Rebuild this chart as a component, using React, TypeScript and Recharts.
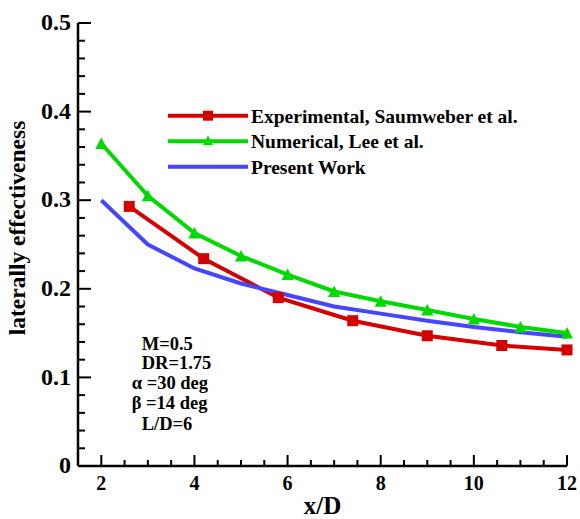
import React from 'react';
import { LineChart, Line, XAxis, YAxis } from 'recharts';

// ---- data ----
const expX = [2.6, 4.2, 5.8, 7.4, 9.0, 10.6, 12];
const expY = [0.293, 0.234, 0.19, 0.164, 0.147, 0.136, 0.131];

const numX = [2, 3, 4, 5, 6, 7, 8, 9, 10, 11, 12];
const numY = [0.364, 0.305, 0.263, 0.237, 0.216, 0.197, 0.186, 0.176, 0.166, 0.157, 0.15];

const presX = [2, 3, 4, 5, 6, 7, 8, 9, 10, 11, 12];
const presY = [0.3, 0.25, 0.223, 0.206, 0.193, 0.18, 0.172, 0.164, 0.157, 0.151, 0.146];

const xTicks = [2, 2.5, 3, 3.5, 4, 4.5, 5, 5.5, 6, 6.5, 7, 7.5, 8, 8.5, 9, 9.5, 10, 10.5, 11, 11.5, 12];
const xMajor = [2, 4, 6, 8, 10, 12];
const yTicks = [0, 0.02, 0.04, 0.06, 0.08, 0.1, 0.12, 0.14, 0.16, 0.18, 0.2, 0.22, 0.24, 0.26, 0.28, 0.3, 0.32, 0.34, 0.36, 0.38, 0.4, 0.42, 0.44, 0.46, 0.48, 0.5];
const yMajor = [0, 0.1, 0.2, 0.3, 0.4, 0.5];

const seriesNames = ['Experimental, Saumweber et al.', 'Numerical, Lee et al.', 'Present Work'];
const notes = ['M=0.5', 'DR=1.75', '\u03B1 =30 deg', '\u03B2 =14 deg', 'L/D=6'];
const xTitle = 'x/D';
const yTitle = 'laterally effectiveness';

// ---- styles ----
const RED = '#D40000';
const GREEN = '#00D800';
const BLUE = '#4646FF';
const FONT = '"Liberation Serif", "Times New Roman", serif';

const toPts = (xs: number[], ys: number[]) => xs.map((x, i) => ({ x, y: ys[i] }));
const expData = toPts(expX, expY);
const numData = toPts(numX, numY);
const presData = toPts(presX, presY);

const X_MARGIN = 10;
const Y_MARGIN = 7;

const isIn = (arr: number[], v: number) => arr.some((a) => Math.abs(a - v) < 1e-9);

const XTick = (props: any) => {
  const { x, y, payload } = props;
  const axisY = y - X_MARGIN;
  const major = isIn(xMajor, payload.value);
  return (
    <g>
      <line x1={x} x2={x} y1={axisY} y2={axisY - (major ? 11 : 6)} stroke="#000" strokeWidth={2} />
      {major && (
        <text x={x} y={y} dy="0.72em" textAnchor="middle" fontFamily={FONT} fontWeight="bold" fontSize={20} fill="#000">
          {payload.value}
        </text>
      )}
    </g>
  );
};

const YTick = (props: any) => {
  const { x, y, payload } = props;
  const axisX = x + Y_MARGIN;
  const major = isIn(yMajor, payload.value);
  return (
    <g>
      <line x1={axisX} x2={axisX + (major ? 13 : 7)} y1={y} y2={y} stroke="#000" strokeWidth={2} />
      {major && (
        <text x={x} y={y} dy="0.3em" textAnchor="end" fontFamily={FONT} fontWeight="bold" fontSize={24} fill="#000">
          {payload.value}
        </text>
      )}
    </g>
  );
};

const SquareDot = (props: any) => {
  const { cx, cy, index } = props;
  if (cx == null || cy == null) return <g key={index} />;
  return <rect key={index} x={cx - 5.5} y={cy - 5.5} width={11} height={11} fill={RED} />;
};

const TriDot = (props: any) => {
  const { cx, cy, index } = props;
  if (cx == null || cy == null) return <g key={index} />;
  return (
    <polygon
      key={index}
      points={`${cx},${cy - 6} ${cx - 6},${cy + 5.5} ${cx + 6},${cy + 5.5}`}
      fill={GREEN}
    />
  );
};

const legendRows = [
  { name: seriesNames[0], color: RED, marker: 'square' },
  { name: seriesNames[1], color: GREEN, marker: 'triangle' },
  { name: seriesNames[2], color: BLUE, marker: 'none' },
];

const noteY = [349.5, 369, 389, 409, 429.5];
const noteX = [141.7, 141.7, 131.7, 131.7, 141.7];

export default function App() {
  return (
    <div style={{ position: 'absolute', left: 0, top: 0, width: 580, height: 519, background: '#fff' }}>
      <LineChart
        width={580}
        height={519}
        margin={{ top: 23, right: 13, bottom: 8, left: 0 }}
      >
        <XAxis
          dataKey="x"
          type="number"
          domain={[1.5, 12]}
          ticks={xTicks}
          interval={0}
          tickLine={false}
          tickSize={0}
          tickMargin={X_MARGIN}
          height={45}
          axisLine={{ stroke: '#000', strokeWidth: 2.5 }}
          tick={<XTick />}
          allowDuplicatedCategory={false}
        />
        <YAxis
          type="number"
          domain={[0, 0.5]}
          ticks={yTicks}
          interval={0}
          tickLine={false}
          tickSize={0}
          tickMargin={Y_MARGIN}
          width={78}
          axisLine={{ stroke: '#000', strokeWidth: 2.5 }}
          tick={<YTick />}
        />
        <Line
          data={expData}
          dataKey="y"
          type="linear"
          stroke={RED}
          strokeWidth={4}
          dot={(p: any) => <SquareDot {...p} />}
          activeDot={false}
          isAnimationActive={false}
        />
        <Line
          data={presData}
          dataKey="y"
          type="linear"
          stroke={BLUE}
          strokeWidth={4}
          dot={false}
          activeDot={false}
          isAnimationActive={false}
        />
        <Line
          data={numData}
          dataKey="y"
          type="linear"
          stroke={GREEN}
          strokeWidth={4}
          dot={(p: any) => <TriDot {...p} />}
          activeDot={false}
          isAnimationActive={false}
        />
      </LineChart>
      <svg
        width={580}
        height={519}
        style={{ position: 'absolute', left: 0, top: 0, pointerEvents: 'none' }}
      >
        {legendRows.map((r, i) => {
          const ly = 115.7 + i * 25.5;
          return (
            <g key={r.name}>
              <line x1={168} x2={248} y1={ly} y2={ly} stroke={r.color} strokeWidth={4} />
              {r.marker === 'square' && <rect x={203} y={ly - 5} width={10} height={10} fill={r.color} />}
              {r.marker === 'triangle' && (
                <polygon points={`208,${ly - 6} 203,${ly + 4} 213,${ly + 4}`} fill={r.color} />
              )}
              <text x={251} y={ly + 7} fontFamily={FONT} fontWeight="bold" fontSize={19.5} fill="#000">
                {r.name}
              </text>
            </g>
          );
        })}
        {notes.map((t, i) => (
          <text key={t} x={noteX[i]} y={noteY[i]} fontFamily={FONT} fontWeight="bold" fontSize={18.5} fill="#000">
            {t}
          </text>
        ))}
        <text x={322.5} y={514} textAnchor="middle" fontFamily={FONT} fontWeight="bold" fontSize={25} fill="#000">
          {xTitle}
        </text>
        <text
          x={25}
          y={228}
          transform="rotate(-90, 25, 228)"
          textAnchor="middle"
          fontFamily={FONT}
          fontWeight="bold"
          fontSize={23.5}
          fill="#000"
        >
          {yTitle}
        </text>
      </svg>
    </div>
  );
}
